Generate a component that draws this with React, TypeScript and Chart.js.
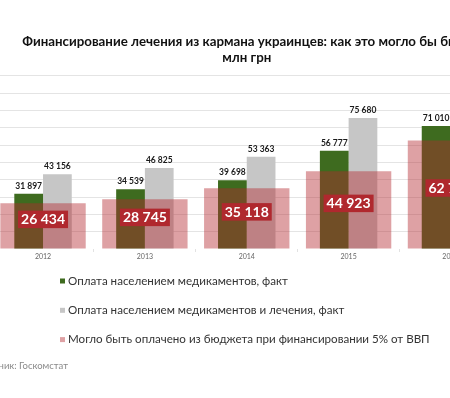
import React, { useEffect, useRef } from 'react';
import { Chart, registerables } from 'chart.js';

Chart.register(...registerables);

const TITLE = ['Финансирование лечения из кармана украинцев: как это могло бы быть', 'млн грн'];
const YEARS = ['2012', '2013', '2014', '2015', '2016'];
const MEDS = [31897, 34539, 39698, 56777, 71010];
const MEDS_TREAT = [43156, 46825, 53363, 75680, 94500];
const BUDGET = [26434, 28745, 35118, 44923, 62700];
const SERIES_LABELS = [
  'Оплата населением медикаментов, факт',
  'Оплата населением медикаментов и лечения, факт',
  'Могло быть оплачено из бюджета при финансировании 5% от ВВП',
];
const SOURCE = 'Источник: Госкомстат';
const Y_MAX = 100000;
const Y_STEP = 10000;

const GREEN = '#3e6b1f';
const GRAY = '#c6c6c6';
const PINK = 'rgba(180, 42, 48, 0.44)';
const BOX_RED = '#b0282e';
const FONT = 'Lato';

const fmt = (v: number) => String(v).replace(/\B(?=(\d{3})+(?!\d))/g, ' ');

const valueLabels = {
  id: 'valueLabels',
  afterDatasetsDraw(chart: any) {
    const ctx = chart.ctx;
    ctx.save();
    chart.data.datasets.forEach((ds: any, i: number) => {
      const meta = chart.getDatasetMeta(i);
      meta.data.forEach((bar: any, j: number) => {
        const v = ds.data[j] as number;
        const { x, y, base } = bar.getProps(['x', 'y', 'base'], true);
        const text = fmt(v);
        if (ds.labelStyle === 'box') {
          ctx.font = `bold 14px ${FONT}`;
          const w = ctx.measureText(text).width + 6;
          const h = 17.5;
          const cy = (y + base) / 2 - 6.5;
          ctx.fillStyle = BOX_RED;
          ctx.fillRect(x - w / 2, cy - h / 2, w, h);
          ctx.fillStyle = '#ffffff';
          ctx.textAlign = 'center';
          ctx.textBaseline = 'middle';
          ctx.fillText(text, x, cy + 0.5);
        } else {
          ctx.font = `bold 8.5px ${FONT}`;
          ctx.fillStyle = '#1a1a1a';
          ctx.textAlign = 'center';
          ctx.textBaseline = 'alphabetic';
          ctx.fillText(text, x, y - 5);
        }
      });
    });
    ctx.restore();
  },
};

const bottomLegend = {
  id: 'bottomLegend',
  afterDraw(chart: any) {
    const ctx = chart.ctx;
    ctx.save();
    const rowsY = [281, 310.3, 339.6];
    chart.data.datasets.forEach((ds: any, i: number) => {
      const yy = rowsY[i];
      ctx.fillStyle = '#ffffff';
      ctx.fillRect(100, yy - 2.5, 5, 5);
      ctx.fillStyle = ds.backgroundColor;
      ctx.fillRect(100, yy - 2.5, 5, 5);
      ctx.fillStyle = '#333333';
      ctx.font = `11.6px ${FONT}`;
      ctx.textAlign = 'left';
      ctx.textBaseline = 'middle';
      ctx.fillText(ds.label, 108, yy);
    });
    ctx.fillStyle = '#8a8a8a';
    ctx.font = `9.5px ${FONT}`;
    ctx.textAlign = 'left';
    ctx.textBaseline = 'middle';
    ctx.fillText(SOURCE, 12, 366);
    ctx.restore();
  },
};

export default function App() {
  const ref = useRef<HTMLCanvasElement>(null);
  useEffect(() => {
    if (!ref.current) return;
    const chart = new Chart(ref.current, {
      type: 'bar',
      data: {
        labels: YEARS,
        datasets: [
          {
            label: SERIES_LABELS[0],
            data: MEDS,
            backgroundColor: GREEN,
            order: 2,
            categoryPercentage: 0.564,
            barPercentage: 1,
          } as any,
          {
            label: SERIES_LABELS[1],
            data: MEDS_TREAT,
            backgroundColor: GRAY,
            order: 2,
            categoryPercentage: 0.564,
            barPercentage: 1,
          } as any,
          {
            label: SERIES_LABELS[2],
            data: BUDGET,
            backgroundColor: PINK,
            order: 1,
            grouped: false,
            categoryPercentage: 1,
            barPercentage: 0.838,
            labelStyle: 'box',
          } as any,
        ],
      },
      options: {
        responsive: false,
        animation: false,
        devicePixelRatio: 1,
        layout: { padding: { left: 32.1, right: 31.6, top: 0, bottom: 135.6 } },
        plugins: {
          legend: { display: false },
          tooltip: { enabled: false },
          title: {
            display: true,
            text: TITLE,
            color: '#111111',
            font: { family: FONT, size: 13.3, weight: 'bold', lineHeight: 1.17 },
            padding: { top: 34.2, bottom: 10.6 },
          },
        },
        scales: {
          x: {
            offset: true,
            grid: { display: true, drawOnChartArea: false, tickLength: 3, color: '#e2e2e2', offset: true },
            border: { display: false },
            ticks: { color: '#666666', font: { family: FONT, size: 7 }, padding: 1 },
          },
          y: {
            min: 0,
            max: Y_MAX,
            ticks: { stepSize: Y_STEP, display: false },
            grid: {
              drawTicks: false,
              lineWidth: 1,
              color: (c: any) => (c.tick && c.tick.value === 0 ? 'rgba(0,0,0,0)' : '#e4e4e4'),
            },
            border: { display: false },
          },
        },
      } as any,
      plugins: [valueLabels, bottomLegend],
    });
    return () => chart.destroy();
  }, []);

  return (
    <div style={{ position: 'fixed', left: 0, top: 0, width: 450, height: 398, overflow: 'hidden', background: '#ffffff' }}>
      <div style={{ position: 'absolute', left: -40, top: 0, width: 573, height: 398 }}>
        <canvas ref={ref} width={573} height={398} style={{ display: 'block' }} />
      </div>
    </div>
  );
}
